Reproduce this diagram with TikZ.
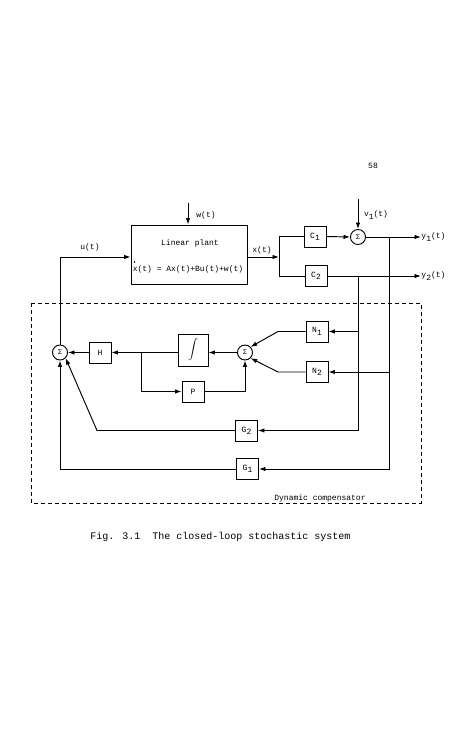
\documentclass[tikz,border=0pt]{standalone}
\usepackage{fontspec}
\setmainfont{Liberation Mono}
\usetikzlibrary{arrows.meta,calc}
\newcommand{\lowsub}[1]{\raisebox{-0.55ex}{\footnotesize #1}}
\begin{document}
\begin{tikzpicture}[x=1pt,y=-1pt,
  line width=0.95pt,
  every node/.style={font=\fontsize{8}{9}\selectfont},
  blk/.style={draw,rectangle,minimum width=22pt,minimum height=21pt,inner sep=0pt},
  sum/.style={draw,circle,minimum size=15pt,inner sep=0pt,font=\fontsize{7}{8}\selectfont},
  arr/.style={-{Latex[length=6.5pt,width=4.5pt]}},
  lbl/.style={inner sep=0pt}]
\useasboundingbox (0,0) rectangle (463,752);
% page number and caption
\node[lbl] (pg) at (373,166) {58};
\node[lbl,anchor=west,font=\fontsize{10}{12}\selectfont] (figno) at (90,537) {Fig. 3.1};
\node[lbl,anchor=west,font=\fontsize{10}{12}\selectfont] (cap) at (152,537) {The closed-loop stochastic system};
% plant
\node[draw,rectangle,minimum width=116pt,minimum height=59pt,inner sep=0pt] (plant) at (189,254.5) {};
\node[lbl] (ptitle) at (190,243) {Linear plant};
\node[lbl] (peq) at (188,269) {x(t) = Ax(t)+Bu(t)+w(t)};
\fill ($(peq.west)+(2.2,-7)$) circle (0.8);
% blocks
\node[blk] (C1) at (315,236.5) {C\lowsub{1}};
\node[blk] (C2) at (316,276) {C\lowsub{2}};
\node[sum] (s1) at (358,237) {Σ};
\node[blk] (N1) at (317,331.5) {N\lowsub{1}};
\node[blk] (N2) at (317,372) {N\lowsub{2}};
\node[sum] (s2) at (245,352.5) {Σ};
\node[draw,rectangle,minimum width=30pt,minimum height=32pt,inner sep=0pt] (integ) at (193,350) {\fontsize{11}{13}\selectfont$\displaystyle\int$};
\node[blk] (H) at (100,352.5) {H};
\node[blk] (P) at (193,391.5) {P};
\node[sum] (s3) at (60,352.5) {Σ};
\node[blk] (G2) at (246.5,430.5) {G\lowsub{2}};
\node[blk] (G1) at (247.5,469) {G\lowsub{1}};
% labels
\node[lbl] (wl) at (206,215) {w(t)};
\node[lbl] (vl) at (376,215) {v\lowsub{1}(t)};
\node[lbl] (ul) at (90,247) {u(t)};
\node[lbl] (xl) at (262,250) {x(t)};
\node[lbl,anchor=west] (y1) at (421,237) {y\lowsub{1}(t)};
\node[lbl,anchor=west] (y2) at (421,276) {y\lowsub{2}(t)};
% coordinates
\coordinate (wtop) at (188,203);
\coordinate (vtop) at (358,199);
\coordinate (jx) at (279,257);
\coordinate (uy) at (60,257);
\coordinate (b1) at (389,237);
\coordinate (b2) at (358,276);
\coordinate (n1k) at (278,331.5);
\coordinate (n2k) at (278,372);
\coordinate (br) at (141,352.5);
\coordinate (g2k) at (97,430.5);
% dashed compensator box
\draw[dashed,dash pattern=on 4pt off 3pt] (31,303) rectangle (421,503);
\node[lbl] (dc) at (320,498) {Dynamic compensator};
% connectors
\draw[arr] (wtop) -- (plant.north -| wtop);
\draw[arr] (vtop) -- (s1.north);
\draw[arr] (plant.east |- jx) -- (jx);
\draw (C1.west) -- (C1.west -| jx) -- (C2.west -| jx) -- (C2.west);
\draw[arr] (C1.east) -- (s1.west);
\draw[arr] (s1.east) -- (y1.west);
\draw[arr] (C2.east) -- (y2.west);
\draw[arr] (b1) |- (G1.east);
\draw[arr] (N2.east -| b1) -- (N2.east);
\draw[arr] (b2) |- (G2.east);
\draw[arr] (N1.east -| b2) -- (N1.east);
\draw[arr] (N1.west) -- (n1k) -- (s2.north east);
\draw[arr] (N2.west) -- (n2k) -- (s2.south east);
\draw[arr] (P.east) -| (s2.south);
\draw[arr] (s2.west) -- (s2.west -| integ.east);
\draw[arr] (integ.west |- br) -- (H.east);
\draw[arr] (br) |- (P.west);
\draw[arr] (H.west) -- (s3.east);
\draw[arr] (G2.west) -- (g2k) -- (s3.south east);
\draw[arr] (G1.west) -| (s3.south);
\draw[arr] (s3.north) -- (uy) -- (plant.west |- uy);
\end{tikzpicture}
\end{document}
